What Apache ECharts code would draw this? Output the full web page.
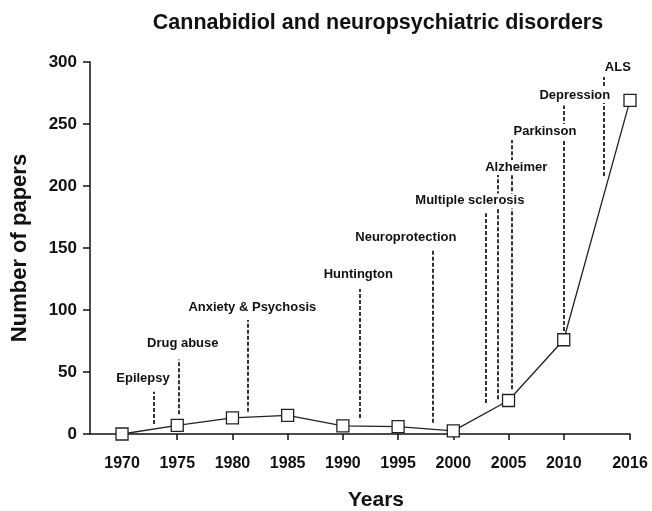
<!DOCTYPE html>
<html>
<head>
<meta charset="utf-8">
<script src="https://cdn.jsdelivr.net/npm/echarts@6/dist/echarts.min.js"></script>
<style>
  html, body { margin: 0; padding: 0; background: #fff; }
  #main { width: 652px; height: 511px; }
</style>
</head>
<body>
<div id="main"></div>
<script>
// papers per year
const years = [1970, 1975, 1980, 1985, 1990, 1995, 2000, 2005, 2010, 2016];
const papers = [0, 7, 13, 15, 6.5, 6, 2.5, 27, 76, 269];
const yearTicks = [1970, 1975, 1980, 1985, 1990, 1995, 2000, 2005, 2010, 2016];

// annotations: dashed line at a year from -> to, label placed at labelYear/labelValue
const noteNames = ['Epilepsy', 'Drug abuse', 'Anxiety & Psychosis', 'Huntington', 'Neuroprotection',
  'Multiple sclerosis', 'Alzheimer', 'Parkinson', 'Depression', 'ALS'];
const noteYear = [1972.9, 1975.1, 1981.4, 1991.5, 1998.1, 2002.9, 2004.0, 2005.3, 2010.0, 2013.6];
const noteFrom = [8, 16, 18, 13, 9, 25, 28, 36, 83, 208];
const noteTo = [34, 60, 92, 117, 149, 178, 209, 237, 265, 288];
const labelYear = [1971.9, 1975.5, 1981.8, 1991.4, 1995.7, 2001.5, 2005.7, 2008.3, 2011.0, 2014.9];
const labelValue = [44.5, 73, 102, 128.5, 158.5, 188, 215, 244, 273, 296];

const FONT = 'Liberation Sans, Arial, sans-serif';

const chart = echarts.init(document.getElementById('main'));

const markLines = noteYear.map((y, i) => ([
  { coord: [y, noteFrom[i]] },
  { coord: [y, noteTo[i]] }
]));

const labelData = noteNames.map((n, i) => ({ value: [labelYear[i], labelValue[i]], name: n }));

chart.setOption({
  animation: false,
  title: {
    text: 'Cannabidiol and neuropsychiatric disorders',
    left: 373,
    top: 7,
    textAlign: 'center',
    textStyle: { fontFamily: FONT, fontSize: 21.5, fontWeight: 'bold', color: '#111' }
  },
  grid: { left: 90, right: 22, top: 62, bottom: 77, outerBoundsMode: 'none' },
  xAxis: {
    type: 'value',
    min: 1967.1,
    max: 2016,
    name: 'Years',
    nameLocation: 'middle',
    nameGap: 56,
    nameTextStyle: { fontFamily: FONT, fontSize: 21, fontWeight: 'bold', color: '#111', padding: [0, 0, 0, 32] },
    splitLine: { show: false },
    axisLine: { lineStyle: { color: '#111', width: 1.5 } },
    axisTick: { customValues: yearTicks, length: 6, lineStyle: { color: '#111', width: 1.5 } },
    axisLabel: {
      customValues: yearTicks,
      margin: 22,
      formatter: v => String(v),
      fontFamily: FONT, fontSize: 16, fontWeight: 'bold', color: '#111'
    }
  },
  yAxis: {
    type: 'value',
    min: 0,
    max: 300,
    interval: 50,
    name: 'Number of papers',
    nameLocation: 'middle',
    nameGap: 59,
    nameRotate: 90,
    nameTextStyle: { fontFamily: FONT, fontSize: 22, fontWeight: 'bold', color: '#111' },
    splitLine: { show: false },
    axisLine: { show: true, lineStyle: { color: '#111', width: 1.5 } },
    axisTick: { show: true, length: 7, lineStyle: { color: '#111', width: 1.5 } },
    axisLabel: { margin: 13, fontFamily: FONT, fontSize: 17, fontWeight: 'bold', color: '#111' }
  },
  series: [
    {
      type: 'line',
      data: years.map((y, i) => [y, papers[i]]),
      symbol: 'rect',
      symbolSize: 12,
      showAllSymbol: true,
      z: 5,
      lineStyle: { color: '#222', width: 1.3 },
      itemStyle: { color: '#fff', borderColor: '#222', borderWidth: 1.3 },
      markLine: {
        silent: true,
        symbol: ['none', 'none'],
        label: { show: false },
        lineStyle: { color: '#333', width: 2, type: [4, 2] },
        data: markLines
      }
    },
    {
      type: 'scatter',
      data: labelData,
      symbolSize: 1,
      itemStyle: { color: 'rgba(0,0,0,0)', opacity: 1 },
      z: 10,
      label: {
        show: true,
        position: 'inside',
        formatter: p => p.name,
        backgroundColor: '#fff',
        padding: [1, 1],
        fontFamily: FONT, fontSize: 13, fontWeight: 'bold', color: '#111'
      }
    }
  ]
});
</script>
</body>
</html>
